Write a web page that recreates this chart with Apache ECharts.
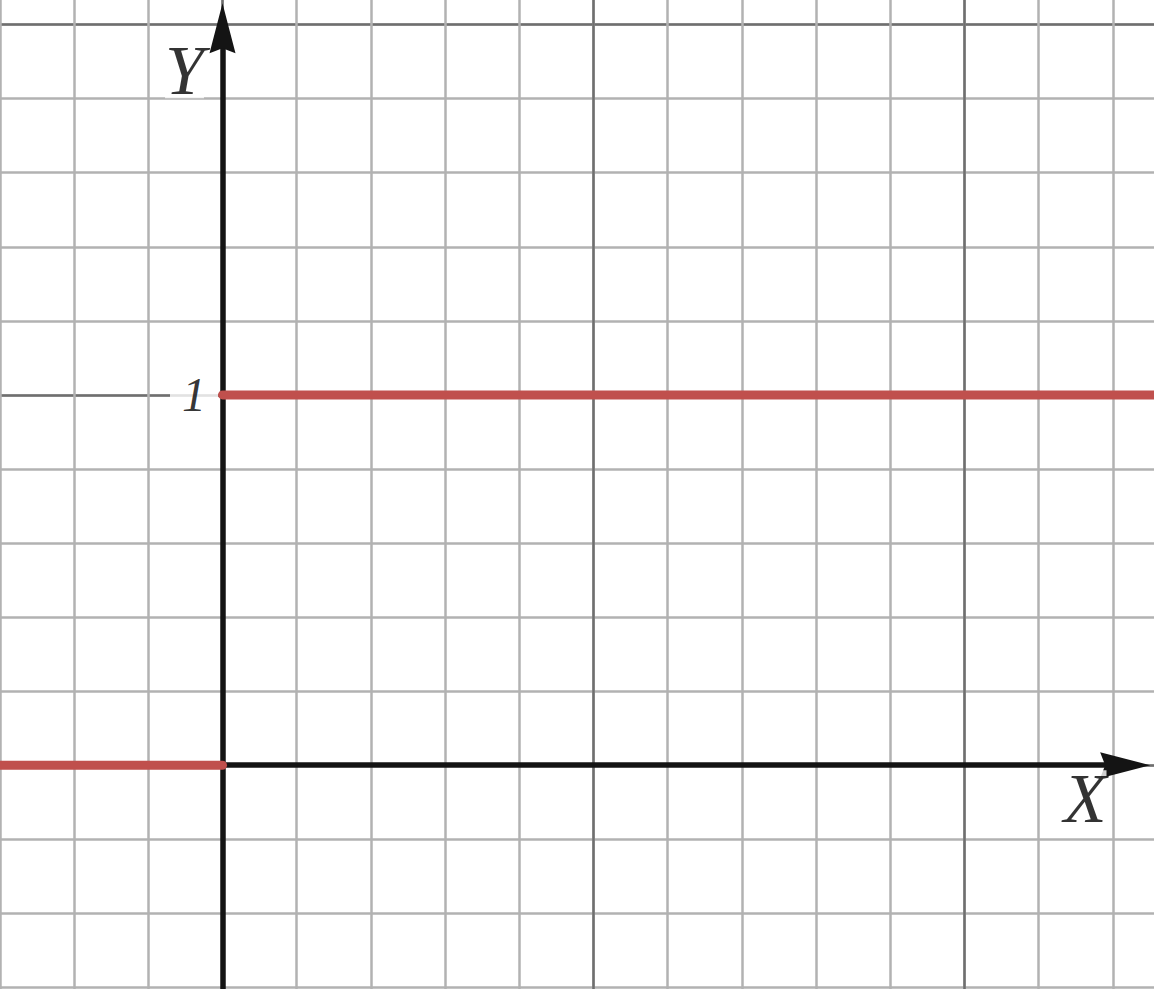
<!DOCTYPE html>
<html>
<head>
<meta charset="utf-8">
<script src="https://cdn.jsdelivr.net/npm/echarts@6/dist/echarts.min.js"></script>
<style>
html,body{margin:0;padding:0;background:#fff;overflow:hidden;}
#c{width:1154px;height:989px;}
</style>
</head>
<body>
<div id="c"></div>
<script>
// ---- data ----
const xRange = [-1, 3];
const yRange = [-1, 3];
const minorStep = 0.2;
const majorStep = 1;
// Heaviside step: 0 for x<0, 1 for x>=0
const lowX = [-1, 0];
const lowY = [0, 0];
const highX = [0, 3];
const highY = [1, 1];
// tick label on the y axis
const yTickValues = [1];
const yTickLabels = ['1'];
// axis names and arrow ends (data units)
const axisNames = ['X', 'Y'];
const xAxisEnd = 2.433;
const yAxisEnd = 1.99;

// ---- layout ----
const X0 = 222.5, Y0 = 765.2, SX = 371, SY = 370.3;
const gridLeft = X0 + xRange[0] * SX;
const gridTop = Y0 - yRange[1] * SY;
const gridW = (xRange[1] - xRange[0]) * SX;
const gridH = (yRange[1] - yRange[0]) * SY;

const minorLine = { show: true, lineStyle: { color: '#b2b2b2', width: 2.5 } };
const majorLine = { show: true, lineStyle: { color: '#6f6f6f', width: 2.5 } };
const hidden = { axisLabel: { show: false }, axisLine: { show: false }, axisTick: { show: false } };

const arrowPath = 'path://M13,0 L26,50 L13,45 L0,50 Z';
const red = '#c0504d';
const serif = "'Liberation Serif', 'DejaVu Serif', serif";

const chart = echarts.init(document.getElementById('c'), null, { renderer: 'svg' });
chart.setOption({
  animation: false,
  backgroundColor: '#ffffff',
  grid: { left: gridLeft, top: gridTop, width: gridW, height: gridH, outerBoundsMode: 'none' },
  xAxis: [
    Object.assign({ type: 'value', min: xRange[0], max: xRange[1], interval: minorStep, splitLine: minorLine }, hidden),
    Object.assign({ type: 'value', min: xRange[0], max: xRange[1], interval: majorStep, splitLine: majorLine, position: 'top' }, hidden)
  ],
  yAxis: [
    Object.assign({ type: 'value', min: yRange[0], max: yRange[1], interval: minorStep, splitLine: minorLine }, hidden),
    Object.assign({ type: 'value', min: yRange[0], max: yRange[1], interval: majorStep, splitLine: majorLine, position: 'right' }, hidden)
  ],
  series: [
    {
      type: 'line', data: [], silent: true, z: 3,
      markLine: {
        silent: true, animation: false,
        symbol: ['none', arrowPath], symbolSize: [26, 50],
        label: { show: false },
        lineStyle: { color: '#141414', width: 5.5, type: 'solid' },
        itemStyle: { color: '#141414', borderColor: '#141414', borderWidth: 3 },
        emphasis: { disabled: true },
        data: [
          [{ coord: [xRange[0], 0] }, { coord: [xAxisEnd, 0] }],
          [{ coord: [0, yRange[0]] }, { coord: [0, yAxisEnd] }]
        ]
      }
    },
    {
      type: 'line', z: 5, silent: true, showSymbol: false,
      data: lowX.map((x, i) => [x, lowY[i]]),
      lineStyle: { color: red, width: 9, cap: 'round' }
    },
    {
      type: 'line', z: 5, silent: true, showSymbol: false,
      data: highX.map((x, i) => [x, highY[i]]),
      lineStyle: { color: red, width: 9, cap: 'round' }
    },
    {
      type: 'scatter', z: 6, silent: true, symbolSize: 1, itemStyle: { color: 'rgba(0,0,0,0)' },
      data: yTickValues.map(v => [0, v]),
      label: {
        show: true, position: 'left', distance: 4,
        formatter: p => yTickLabels[p.dataIndex],
        fontFamily: serif, fontStyle: 'italic', fontSize: 48, color: '#000',
        textBorderWidth: 0,
        backgroundColor: '#ffffff', padding: [4, 12, 0, 12]
      }
    },
    {
      type: 'scatter', z: 6, silent: true, symbolSize: 1, itemStyle: { color: 'rgba(0,0,0,0)' },
      data: [
        { value: [xAxisEnd, 0], label: { offset: [-40, 33] } },
        { value: [0, yAxisEnd], label: { offset: [-38, 42] } }
      ],
      label: {
        show: true, position: 'inside',
        formatter: p => axisNames[p.dataIndex],
        fontFamily: serif, fontStyle: 'italic', fontSize: 70, color: '#000',
        textBorderWidth: 0,
        lineHeight: 56, backgroundColor: '#ffffff', padding: [0, 0, 0, 0]
      }
    }
  ]
});
</script>
</body>
</html>
